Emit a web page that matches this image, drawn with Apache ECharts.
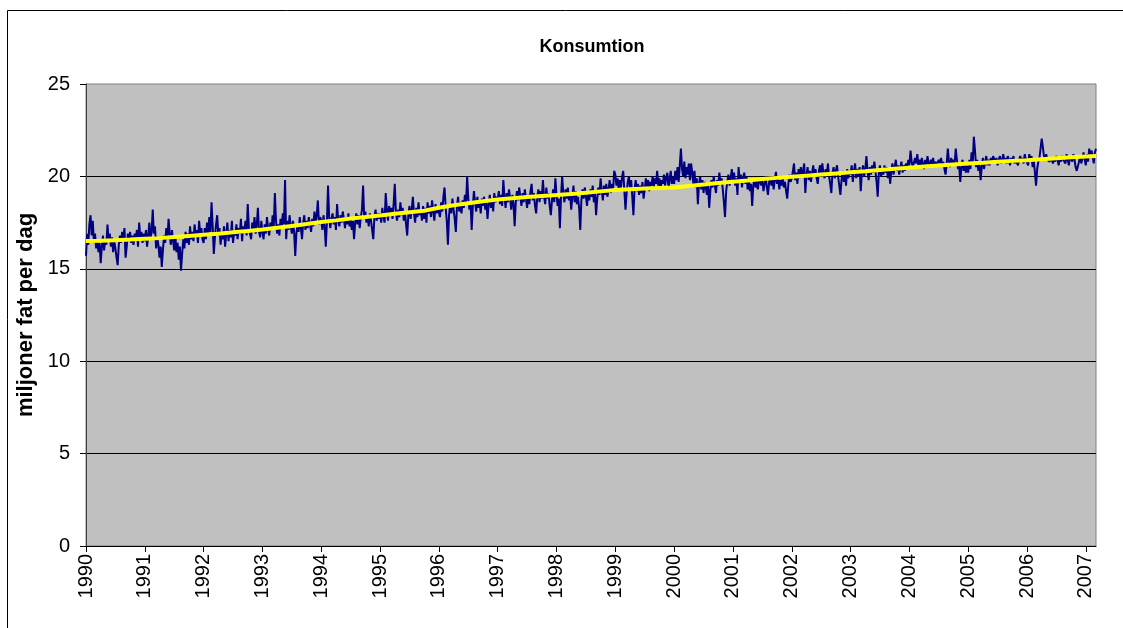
<!DOCTYPE html>
<html><head><meta charset="utf-8">
<script src="https://cdn.jsdelivr.net/npm/echarts@6/dist/echarts.min.js"></script>
<style>html,body{margin:0;padding:0;background:#fff}#c{width:1123px;height:628px}</style>
</head><body><div id="c"></div>
<script>
// Weekly consumption, million barrels per day
const y1990 = [15.7,16.9,16.3,17.4,17.9,16.8,17.6,16.4,16.9,16.1,16.6,15.9,16.4,15.3,16.2,16.8,16.0,16.6,16.3,17.4,16.5,16.9,16.2,16.7,15.9,16.5,16.1,15.6,15.2,16.3,16.8,16.4,17.0,16.6,17.2,15.6,16.2,16.9,16.5,17.0,16.4,16.8,16.3,16.9,16.6,17.1,16.2,17.5,16.7,17.0,16.4,16.9];
const y1991 = [16.5,17.1,16.2,16.8,17.5,16.6,17.0,18.2,16.9,17.3,16.1,16.7,16.3,15.6,16.2,15.1,16.0,16.8,16.4,17.2,16.6,17.7,16.9,16.3,17.1,16.5,16.0,16.8,15.9,16.4,15.5,16.2,14.9,15.8,16.6,16.1,17.0,16.4,16.9,16.3,17.3,16.6,17.0,16.5,17.4,16.8,17.1,16.4,17.6,16.9,17.2,16.6];
const y1992 = [16.4,17.2,16.6,17.5,16.9,17.8,17.0,18.6,17.3,15.8,16.7,17.4,17.9,16.8,17.2,16.3,17.0,16.6,17.3,16.2,16.9,17.5,16.5,17.1,16.7,17.6,16.4,17.0,16.8,17.4,16.6,17.2,16.9,17.7,16.5,17.3,17.0,17.6,16.8,18.5,17.2,16.9,16.6,17.5,17.1,17.8,16.9,17.4,18.3,17.0,16.7,17.6];
const y1993 = [17.0,16.6,17.4,16.9,17.8,17.2,16.8,17.5,17.1,17.9,17.3,19.1,17.6,16.9,17.4,16.8,17.7,17.2,18.0,17.4,19.8,16.6,17.6,17.1,17.9,17.3,16.9,17.6,17.0,15.7,16.9,17.4,17.0,17.8,17.2,16.6,17.5,17.9,17.1,17.6,17.2,17.8,17.4,17.0,17.7,17.3,18.1,17.5,17.9,18.7,17.4,17.8];
const y1994 = [17.6,17.1,17.9,17.3,16.2,17.5,19.5,17.8,17.2,17.7,18.0,17.4,17.8,17.1,18.5,17.6,17.3,17.9,17.5,18.1,17.7,17.2,17.8,17.4,18.0,17.3,17.7,17.1,17.6,16.6,17.5,18.0,17.4,17.9,17.2,17.8,18.2,19.5,17.7,18.1,17.5,17.9,17.3,18.0,17.6,17.1,16.6,17.8,18.2,17.6,18.0,17.7];
const y1995 = [18.0,17.5,18.3,17.8,17.5,19.1,18.2,17.6,18.4,17.9,18.3,17.7,18.5,19.6,18.1,17.6,18.2,17.8,18.6,17.9,18.3,17.6,18.1,17.4,16.8,17.9,18.4,17.7,18.2,18.9,18.0,17.5,18.3,17.8,18.6,17.9,18.2,17.6,18.4,17.7,18.3,17.5,18.6,18.0,18.4,17.8,18.7,18.1,17.6,18.5,18.0,18.3];
const y1996 = [18.2,17.8,18.6,18.1,18.9,19.4,18.3,17.6,16.3,17.9,18.5,18.0,18.8,18.2,17.7,17.0,18.4,18.9,18.1,18.6,18.0,18.7,18.3,19.0,18.5,20.0,18.8,18.2,18.6,17.1,18.4,19.2,18.6,18.1,18.9,18.3,18.7,18.0,18.8,18.4,18.9,18.2,18.6,17.7,18.5,19.0,18.3,18.8,18.1,19.1,18.6,18.9];
const y1997 = [18.7,19.2,18.5,19.0,18.4,19.8,18.9,18.3,19.1,18.6,19.3,18.8,18.2,19.0,18.5,17.3,18.6,19.2,18.7,19.4,18.9,18.4,19.1,18.6,19.3,18.8,18.3,19.0,18.5,19.2,19.6,18.7,19.1,18.4,18.0,18.9,19.3,18.6,19.2,18.8,19.8,18.9,18.5,19.4,18.8,19.1,18.4,17.9,18.7,19.3,18.6,19.9];
const y1998 = [19.0,18.4,18.8,17.2,18.9,20.0,19.1,18.6,19.3,18.8,19.4,18.7,19.1,18.2,18.9,19.5,18.6,19.2,18.5,18.9,18.3,17.1,18.7,19.3,18.8,19.4,18.9,18.4,19.1,18.7,19.3,18.9,19.5,18.6,19.1,17.9,18.8,19.4,19.0,19.9,19.2,18.7,19.5,19.0,19.6,18.9,19.3,19.8,19.1,19.6,19.2,20.3];
const y1999 = [20.1,19.5,19.9,19.3,19.8,19.4,20.0,20.3,19.2,18.2,19.1,19.7,20.0,19.4,19.8,18.9,17.9,19.3,19.8,19.2,19.6,19.0,19.5,19.1,19.7,18.8,19.3,19.9,19.4,19.8,19.2,19.7,19.5,20.0,19.4,19.9,19.6,20.3,19.5,19.9,19.3,19.8,19.6,20.1,19.5,19.9,20.2,19.4,19.8,20.3,19.6,20.0];
const y2000 = [19.6,20.3,19.8,20.5,19.7,20.6,21.5,20.4,20.0,20.8,19.9,20.5,20.1,20.7,19.8,20.7,20.2,19.6,20.3,19.4,19.9,18.5,19.6,20.0,19.3,19.8,19.1,19.7,19.4,19.0,19.6,18.3,19.2,19.8,19.4,20.0,19.5,19.1,19.8,19.5,20.2,19.6,19.9,19.3,18.6,17.8,19.2,19.7,20.1,19.5,19.9,20.4];
const y2001 = [19.8,20.2,19.5,19.9,19.0,20.5,19.7,20.1,19.4,19.9,20.2,19.6,20.0,19.3,19.8,19.2,19.6,18.4,19.5,19.9,19.4,19.8,19.3,19.7,19.9,19.5,19.8,19.2,19.6,20.0,19.4,19.0,19.7,20.0,19.5,19.9,19.3,19.8,20.25,19.6,19.9,19.3,19.8,19.5,20.0,19.4,19.7,19.2,18.8,19.6,20.1,19.7];
const y2002 = [19.9,20.3,20.7,19.8,20.2,19.6,20.4,19.9,20.5,20.0,20.3,20.7,19.1,20.1,20.5,19.8,20.3,19.7,20.2,20.6,20.0,20.4,19.9,19.6,20.3,20.6,20.1,20.7,20.2,19.9,20.4,20.1,20.7,20.0,19.6,19.1,20.2,20.5,19.9,20.3,20.6,20.0,19.5,19.0,19.8,20.3,19.7,20.2,19.5,20.4,19.9,20.3];
const y2003 = [20.1,20.6,19.7,20.3,20.7,19.9,20.4,20.0,20.5,19.2,20.2,20.6,20.0,20.4,21.1,20.3,19.8,20.5,20.1,20.6,20.2,20.8,20.3,19.7,18.9,20.2,20.6,20.0,20.4,20.1,20.6,20.2,20.5,19.9,20.4,19.6,20.3,20.7,20.1,20.5,20.9,20.3,20.6,20.1,20.5,20.8,20.2,20.6,20.3,20.7,20.4,20.9];
const y2004 = [20.6,21.4,20.8,20.5,20.4,21.0,20.7,21.2,20.6,20.9,20.5,21.0,20.7,20.4,20.9,20.6,21.1,20.7,20.5,20.9,20.6,21.0,20.5,20.8,20.6,20.5,20.9,20.7,21.0,20.6,20.8,20.4,20.1,20.7,21.5,20.8,20.5,21.0,20.6,20.9,20.7,21.5,20.9,20.4,20.6,19.7,20.5,20.9,20.3,20.7,20.2,20.6];
const y2005 = [20.2,20.9,20.4,21.3,20.7,22.15,21.4,20.5,20.9,20.3,20.7,19.8,20.5,21.0,20.4,20.8,21.1,20.6,20.9,20.6,21.0,20.7,21.1,21.2,20.8,21.0,20.6,20.9,21.1,20.7,20.9,21.2,20.8,21.0,20.7,21.1,20.9,20.6,21.0,20.8,21.1,20.7,20.9,21.0,20.6,20.9,21.1,20.8,21.0,20.7,21.2,20.9];
const y2006 = [21.0,20.6,21.2,20.8,21.1,20.5,20.9,20.2,19.5,20.4,20.8,21.0,21.5,22.05,21.6,21.1,20.9,21.2,20.9,21.0,20.8,21.0,20.9,20.7,21.0,20.8,21.1,20.9,20.6,21.0,20.8,21.1,20.9,21.0,20.7,21.2,20.9,20.6,21.1,21.0,20.8,21.2,20.9,20.5,20.3,20.2,20.8,21.1,20.7,21.0,21.3,20.9];
const y2007 = [20.6,21.2,20.8,21.5,21.0,21.4,21.1,20.7,21.3,21.5];

const weeklyByYear = [y1990,y1991,y1992,y1993,y1994,y1995,y1996,y1997,y1998,y1999,y2000,y2001,y2002,y2003,y2004,y2005,y2006,y2007];
const yearLabels = ['1990','1991','1992','1993','1994','1995','1996','1997','1998','1999','2000','2001','2002','2003','2004','2005','2006','2007'];

// Smoothed trend (yellow), one value per quarter (every 13 weeks), plus the last week
const trendQuarterly = [
  16.50,16.52,16.55,16.58, 16.62,16.66,16.72,16.78, 16.84,16.90,16.98,17.05, 17.13,17.22,17.32,17.42,
  17.53,17.62,17.72,17.80, 17.89,17.98,18.06,18.14, 18.30,18.44,18.55,18.66, 18.75,18.82,18.88,18.94,
  18.99,19.05,19.12,19.19, 19.26,19.30,19.34,19.37, 19.40,19.48,19.56,19.64, 19.71,19.78,19.86,19.92,
  19.98,20.04,20.10,20.16, 20.22,20.28,20.35,20.41, 20.47,20.53,20.59,20.65, 20.70,20.74,20.79,20.84,
  20.88,20.93,20.98,21.03, 21.08];
const trendLast = 21.10;

const WEEKS_PER_YEAR = 52;
const categories = [];
const consumption = [];
weeklyByYear.forEach((arr, i) => arr.forEach(v => { categories.push(yearLabels[i]); consumption.push(v); }));
const trend = consumption.map(() => null);
trendQuarterly.forEach((v, q) => { trend[q * 13] = v; });
trend[trend.length - 1] = trendLast;
const isYearStart = idx => idx % WEEKS_PER_YEAR === 0;

const FONT = 'Liberation Sans, Arial, sans-serif';
const chart = echarts.init(document.getElementById('c'));
chart.setOption({
  animation: false,
  backgroundColor: '#ffffff',
  title: {
    text: 'Konsumtion', left: 587, top: 33, textAlign: 'center',
    textStyle: { fontFamily: FONT, fontSize: 18, fontWeight: 'bold', color: '#000' }
  },
  grid: { left: 86, right: 27, top: 84, bottom: 82, show: true, backgroundColor: '#C0C0C0', borderColor: '#808080', borderWidth: 1 },
  xAxis: {
    type: 'category', data: categories, boundaryGap: false,
    axisLine: { lineStyle: { color: '#000', width: 1 } },
    axisTick: { interval: i => isYearStart(i), length: 6, lineStyle: { color: '#000' } },
    axisLabel: { interval: i => isYearStart(i), rotate: 90, margin: 8, fontFamily: FONT, fontSize: 20, color: '#000' },
    splitLine: { show: false }
  },
  yAxis: {
    type: 'value', min: 0, max: 25, interval: 5,
    name: 'miljoner fat per dag', nameLocation: 'middle', nameGap: 43,
    nameTextStyle: { fontFamily: FONT, fontSize: 22, fontWeight: 'bold', color: '#000' },
    axisLine: { show: true, lineStyle: { color: '#404040', width: 1 } },
    axisTick: { show: true, length: 6, lineStyle: { color: '#000' } },
    axisLabel: { margin: 16, fontFamily: FONT, fontSize: 20, color: '#000' },
    splitLine: { show: true, showMaxLine: false, lineStyle: { color: '#000', width: 1 } }
  },
  series: [
    { name: 'Konsumtion', type: 'line', data: consumption, symbol: 'none', lineStyle: { color: '#000080', width: 2 }, z: 2 },
    { name: 'Trend', type: 'line', data: trend, connectNulls: true, symbol: 'none', smooth: false, lineStyle: { color: '#FFFF00', width: 4 }, z: 3 }
  ],
  graphic: [{ type: 'rect', silent: true, shape: { x: 7.5, y: 10.5, width: 1130, height: 640 }, style: { fill: null, stroke: '#000', lineWidth: 1 } }]
});
</script></body></html>
